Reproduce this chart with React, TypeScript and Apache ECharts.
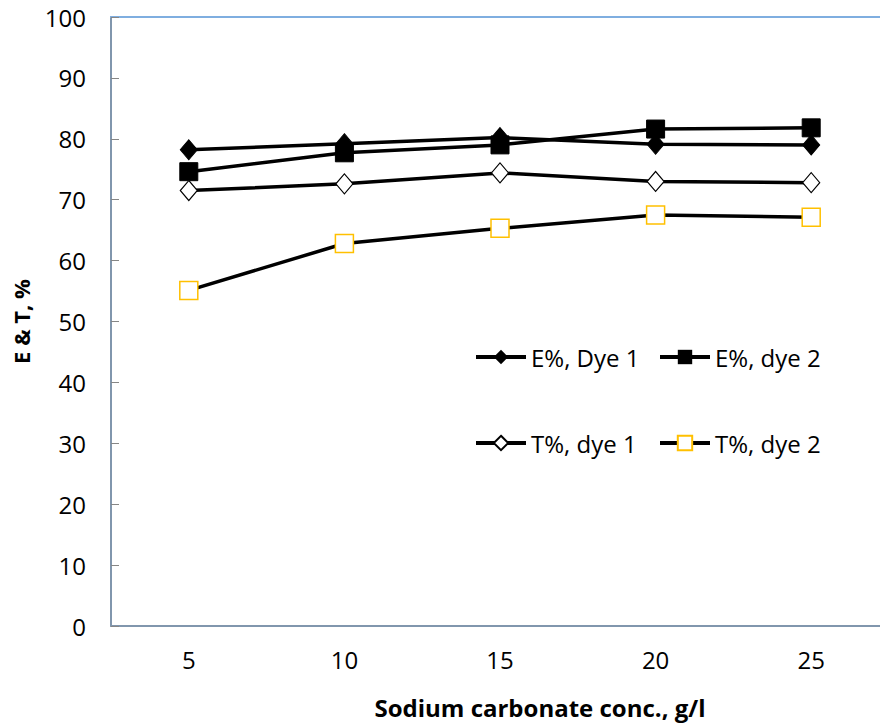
import React, { useEffect, useRef } from "react";
import * as echarts from "echarts";

const categories = ["5", "10", "15", "20", "25"];
const eDye1 = [78.2, 79.2, 80.2, 79.1, 79.0];
const eDye2 = [74.6, 77.7, 79.0, 81.6, 81.8];
const tDye1 = [71.5, 72.6, 74.4, 73.0, 72.8];
const tDye2 = [55.1, 62.8, 65.3, 67.5, 67.1];
const seriesNames = ["E%, Dye 1", "E%, dye 2", "T%, dye 1", "T%, dye 2"];

const FONT = "'Open Sans', sans-serif";

export default function App() {
  const ref = useRef<HTMLDivElement>(null);
  useEffect(() => {
    if (!ref.current) return;
    const chart = echarts.init(ref.current, undefined, { renderer: "svg" });
    const lineStyle = { color: "#000", width: 3.5 };
    const legendBase = {
      itemWidth: 50,
      itemHeight: 18,
      itemGap: 0,
      padding: 0,
      textStyle: { fontSize: 24, color: "#000", fontFamily: FONT },
      lineStyle: { width: 4 },
    };
    chart.setOption({
      animation: false,
      backgroundColor: "#fff",
      textStyle: { fontFamily: FONT },
      grid: {
        left: 111,
        top: 17,
        width: 778,
        height: 609,
        containLabel: false,
        outerBoundsMode: "none",
      },
      legend: [
        { ...legendBase, data: [seriesNames[0]], left: 474, top: 345 },
        { ...legendBase, data: [seriesNames[1]], left: 658, top: 345 },
        { ...legendBase, data: [seriesNames[2]], left: 474, top: 431 },
        { ...legendBase, data: [seriesNames[3]], left: 658, top: 431 },
      ],
      xAxis: [
        {
          type: "category",
          data: categories,
          boundaryGap: true,
          axisLine: { lineStyle: { color: "#8196AD", width: 2 } },
          axisTick: { inside: true, length: 9, lineStyle: { color: "#868686", width: 1 } },
          axisLabel: { fontSize: 24, color: "#000", margin: 21, fontFamily: FONT },
        },
        {
          type: "category",
          position: "top",
          data: categories,
          axisLine: { lineStyle: { color: "#7FAEE0", width: 2 } },
          axisTick: { show: false },
          axisLabel: { show: false },
        },
      ],
      yAxis: {
        type: "value",
        min: 0,
        max: 100,
        interval: 10,
        name: "E & T, %",
        nameLocation: "middle",
        nameGap: 79,
        nameTextStyle: { fontSize: 22, fontWeight: "bold", color: "#000", fontFamily: FONT },
        axisLine: { show: true, lineStyle: { color: "#8196AD", width: 2 } },
        axisTick: { show: true, inside: true, length: 8, lineStyle: { color: "#868686", width: 1 } },
        axisLabel: { fontSize: 24, color: "#000", margin: 25, fontFamily: FONT },
        splitLine: { show: false },
      },
      graphic: [
        {
          type: "text",
          x: 540,
          y: 707,
          style: {
            text: "Sodium carbonate conc., g/l",
            fontSize: 24,
            fontWeight: "bold",
            fill: "#000",
            fontFamily: FONT,
            align: "center",
            verticalAlign: "middle",
          },
        },
      ],
      series: [
        {
          name: seriesNames[0],
          type: "line",
          data: eDye1,
          symbol: "diamond",
          symbolSize: [17, 20],
          lineStyle,
          itemStyle: { color: "#000", borderColor: "#000" },
        },
        {
          name: seriesNames[1],
          type: "line",
          data: eDye2,
          symbol: "rect",
          symbolSize: 18,
          lineStyle,
          itemStyle: { color: "#000", borderColor: "#000" },
        },
        {
          name: seriesNames[2],
          type: "line",
          data: tDye1,
          symbol: "diamond",
          symbolSize: [17, 20],
          lineStyle,
          itemStyle: { color: "#fff", borderColor: "#000", borderWidth: 1.2 },
        },
        {
          name: seriesNames[3],
          type: "line",
          data: tDye2,
          symbol: "rect",
          symbolSize: 18,
          lineStyle,
          itemStyle: { color: "#fff", borderColor: "#FFC000", borderWidth: 1.5 },
        },
      ],
    });
    return () => chart.dispose();
  }, []);
  return <div ref={ref} style={{ width: 880, height: 723, position: "absolute", left: 0, top: 0 }} />;
}
